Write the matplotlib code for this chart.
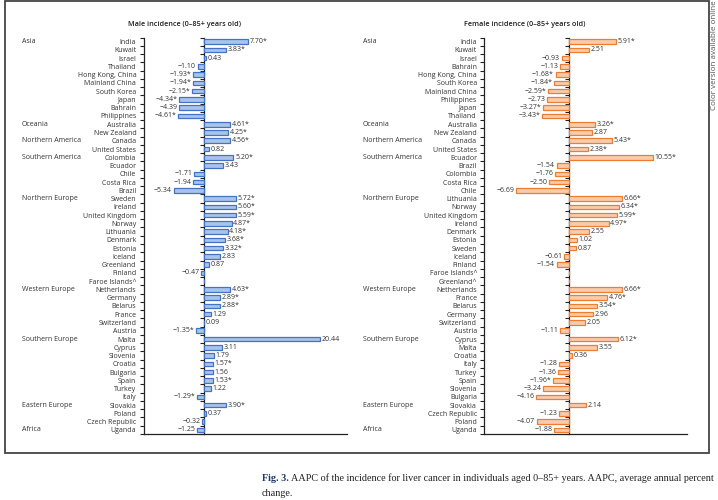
import numpy as np
import matplotlib
matplotlib.use("Agg")
import matplotlib.pyplot as plt
import matplotlib.transforms as mtrans
from matplotlib.patches import Rectangle

plt.rcParams['font.family'] = ['Open Sans', 'DejaVu Sans']

regions = ["Asia", "Oceania", "Northern America", "Southern America", "Northern Europe",
           "Western Europe", "Southern Europe", "Eastern Europe", "Africa"]
region_counts = [10, 2, 2, 5, 11, 6, 8, 3, 1]

male_countries = ["India", "Kuwait", "Israel", "Thailand", "Hong Kong, China", "Mainland China",
                  "South Korea", "Japan", "Bahrain", "Philippines",
                  "Australia", "New Zealand",
                  "Canada", "United States",
                  "Colombia", "Ecuador", "Chile", "Costa Rica", "Brazil",
                  "Sweden", "Ireland", "United Kingdom", "Norway", "Lithuania", "Denmark",
                  "Estonia", "Iceland", "Greenland", "Finland", "Faroe Islands^",
                  "Netherlands", "Germany", "Belarus", "France", "Switzerland", "Austria",
                  "Malta", "Cyprus", "Slovenia", "Croatia", "Bulgaria", "Spain", "Turkey", "Italy",
                  "Slovakia", "Poland", "Czech Republic",
                  "Uganda"]
male_values = [7.70, 3.83, 0.43, -1.10, -1.93, -1.94, -2.15, -4.34, -4.39, -4.61,
               4.61, 4.25,
               4.56, 0.82,
               5.20, 3.43, -1.71, -1.94, -5.34,
               5.72, 5.60, 5.59, 4.87, 4.18, 3.68, 3.32, 2.83, 0.87, -0.47, None,
               4.63, 2.89, 2.88, 1.29, 0.09, -1.35,
               20.44, 3.11, 1.79, 1.57, 1.56, 1.53, 1.22, -1.29,
               3.90, 0.37, -0.32,
               -1.25]
male_sig = [1, 1, 0, 0, 1, 1, 1, 1, 0, 1,
            1, 1,
            1, 0,
            1, 0, 0, 0, 0,
            1, 1, 1, 1, 1, 1, 1, 0, 0, 0, 0,
            1, 1, 1, 0, 0, 1,
            0, 0, 0, 1, 0, 1, 0, 1,
            1, 0, 0,
            0]

female_countries = ["India", "Kuwait", "Israel", "Bahrain", "Hong Kong, China", "South Korea",
                    "Mainland China", "Philippines", "Japan", "Thailand",
                    "Australia", "New Zealand",
                    "Canada", "United States",
                    "Ecuador", "Brazil", "Colombia", "Costa Rica", "Chile",
                    "Lithuania", "Norway", "United Kingdom", "Ireland", "Denmark", "Estonia",
                    "Sweden", "Iceland", "Finland", "Faroe Islands^", "Greenland^",
                    "Netherlands", "France", "Belarus", "Germany", "Switzerland", "Austria",
                    "Cyprus", "Malta", "Croatia", "Italy", "Turkey", "Spain", "Slovenia", "Bulgaria",
                    "Slovakia", "Czech Republic", "Poland",
                    "Uganda"]
female_values = [5.91, 2.51, -0.93, -1.13, -1.68, -1.84, -2.59, -2.73, -3.27, -3.43,
                 3.26, 2.87,
                 5.43, 2.38,
                 10.55, -1.54, -1.76, -2.50, -6.69,
                 6.66, 6.34, 5.99, 4.97, 2.55, 1.02, 0.87, -0.61, -1.54, None, None,
                 6.66, 4.76, 3.54, 2.96, 2.05, -1.11,
                 6.12, 3.55, 0.36, -1.28, -1.36, -1.96, -3.24, -4.16,
                 2.14, -1.23, -4.07,
                 -1.88]
female_sig = [1, 0, 0, 0, 1, 1, 1, 0, 1, 1,
              1, 0,
              1, 1,
              1, 0, 0, 0, 0,
              1, 1, 1, 1, 0, 0, 0, 0, 0, 0, 0,
              1, 1, 1, 0, 0, 0,
              1, 0, 0, 0, 0, 1, 0, 0,
              0, 0, 0,
              0]

W, H = 718, 500
fig = plt.figure(figsize=(W / 100, H / 100), dpi=100)
fig.patch.set_facecolor("white")

TXT = "#333333"


def panel(x0, x1, ytop, ybot, countries, values, sig, xlim, face, edge,
          region_x, title, title_x, label_pad):
    ax = fig.add_axes([x0 / W, 1 - ybot / H, (x1 - x0) / W, (ybot - ytop) / H])
    n = len(countries)
    y = np.arange(n)
    vals = [0.0 if v is None else v for v in values]
    ax.barh(y, vals, height=0.55, color=face, edgecolor=edge, linewidth=0.9)
    ax.set_ylim(n - 0.5, -0.5)
    ax.set_xlim(*xlim)
    ax.spines['top'].set_visible(False)
    ax.spines['right'].set_visible(False)
    for s in ['left', 'bottom']:
        ax.spines[s].set_linewidth(0.9)
        ax.spines[s].set_color("#222222")
    ax.set_xticks([])
    bounds = np.arange(-0.5, n, 1.0)
    ax.set_yticks(bounds, labels=[])
    ax.set_yticks(y, labels=countries, minor=True)
    ax.tick_params(axis='y', which='major', length=3, width=0.8, direction='out', color="#222222")
    ax.tick_params(axis='y', which='minor', length=0, pad=label_pad, labelsize=5, labelcolor=TXT)

    frac = (0 - xlim[0]) / (xlim[1] - xlim[0])
    sec = ax.secondary_yaxis(frac)
    sec.set_yticks(bounds, labels=[])
    sec.spines['left'].set_linewidth(0.9)
    sec.spines['left'].set_color("#222222")
    sec.tick_params(axis='y', which='major', length=3, width=0.8, direction='out', color="#222222")
    sec.tick_params(axis='y', which='minor', length=0)

    for yi, v, s in zip(y, values, sig):
        if v is None:
            continue
        txt = ("\u2212" if v < 0 else "") + f"{abs(v):.2f}" + ("*" if s else "")
        ax.annotate(txt, (v, yi), xytext=(1.2 if v >= 0 else -1.2, 0), textcoords='offset points',
                    ha='left' if v >= 0 else 'right', va='center', fontsize=5, color=TXT)

    tr = mtrans.blended_transform_factory(fig.transFigure, ax.transData)
    start = 0
    for name, cnt in zip(regions, region_counts):
        ax.text(region_x / W, start, name, transform=tr, ha='left', va='center',
                fontsize=5, color=TXT)
        start += cnt

    fig.text(title_x / W, 1 - 24 / H, title, ha='center', va='center', fontsize=5.2,
             fontweight='semibold', color="#222222")
    return ax


panel(144, 347, 37.5, 434, male_countries, male_values, male_sig, (-10.55, 25.2),
      "#A9C4EB", "#4472C4", 22, "Male incidence (0\u201385+ years old)", 184, 5.5)
panel(484, 687, 37.5, 434, female_countries, female_values, female_sig, (-10.7, 14.85),
      "#F8CBAD", "#ED7D31", 363, "Female incidence (0\u201385+ years old)", 525, 5.0)

# frame
fig.patches.append(Rectangle((5 / W, 1 - 453 / H), (709 - 5) / W, 453 / H - 0.002,
                             transform=fig.transFigure, fill=False, edgecolor="#444444",
                             linewidth=1.3))

fig.text(714 / W, 0.999, "Color version available online", rotation=90, ha='center', va='top',
         fontsize=5.8, color="#555555")

cap_font = ['Liberation Serif', 'DejaVu Serif']
CAP_FS = 7.3
t1 = fig.text(262 / W, 1 - 481 / H, "Fig. 3.", fontsize=CAP_FS, fontweight='bold',
              color="#1F3A68", family=cap_font, ha='left', va='baseline')
fig.text(0, 0, "", fontsize=CAP_FS)
plt.annotate(" AAPC of the incidence for liver cancer in individuals aged 0\u201385+ years. AAPC, average annual percent",
             xy=(1, 0), xycoords=t1, xytext=(0, 0), textcoords='offset points',
             ha='left', va='bottom', fontsize=CAP_FS, color="#222222", family=cap_font,
             annotation_clip=False)
fig.text(262 / W, 1 - 496 / H, "change.", fontsize=CAP_FS, color="#222222", family=cap_font,
         ha='left', va='baseline')

fig.savefig("out.png", dpi=100, facecolor="white")
